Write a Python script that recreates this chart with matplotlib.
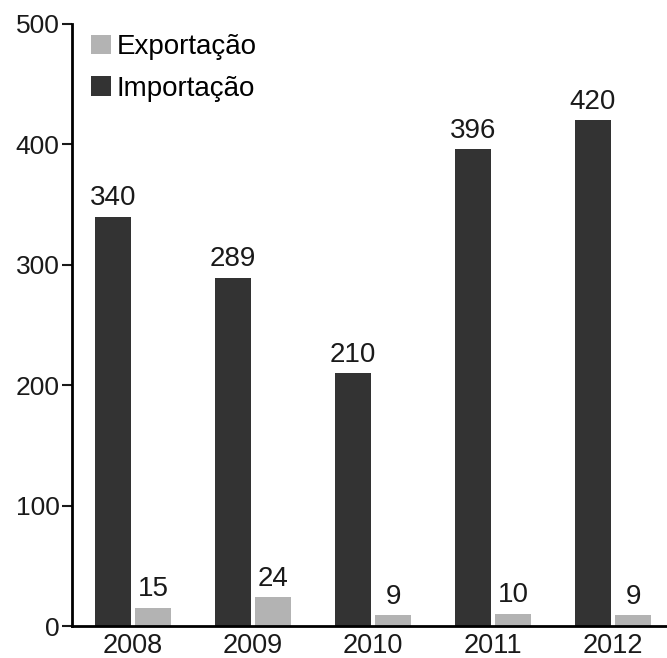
import numpy as np
import matplotlib.pyplot as plt

plt.rcParams['font.family'] = ['Liberation Sans', 'DejaVu Sans']

anos = ['2008', '2009', '2010', '2011', '2012']
importacao = [340, 289, 210, 396, 420]
exportacao = [15, 24, 9, 10, 9]

fig = plt.figure(figsize=(6.67, 6.58), dpi=100)
ax = fig.add_axes([0.108, 0.0486, 0.892, 0.915])

x = np.arange(len(anos))
w = 0.30
b_exp = ax.bar(x + 0.167, exportacao, w, color='#b3b3b3', label='Exportação')
b_imp = ax.bar(x - 0.167, importacao, w, color='#333333', label='Importação')

for rects, vals in [(b_imp, importacao), (b_exp, exportacao)]:
    for r, v in zip(rects, vals):
        ax.annotate(str(v), (r.get_x() + r.get_width() / 2, r.get_height()),
                    xytext=(0, 4), textcoords='offset points',
                    ha='center', va='bottom', fontsize=20, color='#1a1a1a')

ax.set_xlim(-0.508, 4.45)
ax.set_ylim(0, 500)
ax.set_yticks([0, 100, 200, 300, 400, 500])
ax.set_xticks(x)
ax.set_xticklabels(anos)
ax.tick_params(axis='y', labelsize=19, length=7, width=1.5, pad=2, colors='#1a1a1a')
ax.tick_params(axis='x', labelsize=19.5, length=0, pad=5, colors='#1a1a1a')
for s in ['top', 'right']:
    ax.spines[s].set_visible(False)
ax.spines['left'].set_linewidth(2)
ax.spines['bottom'].set_linewidth(2)

ax.legend(loc='upper left', bbox_to_anchor=(0.009, 1.006), frameon=False, fontsize=20,
          handlelength=0.7, handleheight=0.7, handletextpad=0.2, labelspacing=0.55,
          borderaxespad=0.1)

fig.savefig('out.png', dpi=100)
